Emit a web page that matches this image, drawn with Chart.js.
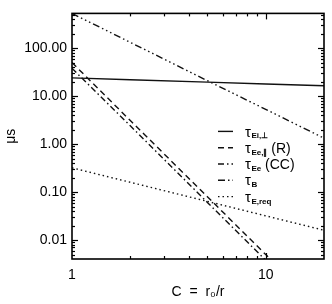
<!DOCTYPE html>
<html><head><meta charset="utf-8">
<script src="https://cdn.jsdelivr.net/npm/chart.js@4.4.1/dist/chart.umd.min.js"></script>
<style>html,body{margin:0;padding:0;background:#fff}canvas{display:block}</style>
</head><body>
<canvas id="c" width="332" height="304"></canvas>
<script>
// ---- data ----
const cPoints   = [1, 2, 5, 10, 20];
const tauEiPerp = [24, 22, 19.6, 17.9, 16.4];
const tauEePar  = [50, 3.1, 0.08, 0.005, 0.0003];
const tauEeCC   = [38, 2.4, 0.061, 0.0038, 0.00024];
const tauB      = [530, 132, 21, 5.3, 1.33];
const tauEreq   = [0.32, 0.16, 0.064, 0.032, 0.016];
const xRange = [1, 20];
const yRange = [0.00403, 530];
const legendMain   = ['τ', 'τ', 'τ', 'τ', 'τ'];
const legendSub    = ['Ei,⊥', 'Ee,∥', 'Ee', 'B', 'E,req'];
const legendSuffix = ['', ' (R)', ' (CC)', '', ''];
const xTitle = 'C  =  r₀/r';
const yTitle = 'μs';

const FONT = "'Liberation Sans', Arial, Helvetica, sans-serif";
Chart.defaults.font.family = FONT;
Chart.defaults.font.size = 14;
Chart.defaults.color = '#000';

const mk = (vals, dash) => ({
  data: cPoints.map((c, i) => ({x: c, y: vals[i]})),
  borderColor: '#111', borderWidth: 1.4, borderDash: dash,
  pointRadius: 0, showLine: true, fill: false, tension: 0
});
const datasets = [
  mk(tauEiPerp, []),
  mk(tauEePar, [6, 4]),
  mk(tauEeCC, [6, 3, 1.5, 3]),
  mk(tauB, [7, 3, 1.5, 3, 1.5, 3, 1.5, 3]),
  mk(tauEreq, [1.5, 3])
];

const isDecade = v => Math.abs(Math.log10(v) - Math.round(Math.log10(v))) < 1e-6;
const isIntMant = v => { const m = v / Math.pow(10, Math.floor(Math.log10(v) + 1e-9)); return Math.abs(m - Math.round(m)) < 1e-6; };

const framePlugin = {
  id: 'frame',
  afterDatasetsDraw(chart) {
    const {ctx, chartArea: a, scales: {x, y}} = chart;
    ctx.save();
    ctx.strokeStyle = '#000';
    ctx.lineWidth = 1.2;
    const seg = (x1, y1, x2, y2) => { ctx.beginPath(); ctx.moveTo(x1, y1); ctx.lineTo(x2, y2); ctx.stroke(); };
    x.ticks.forEach(t => {
      if (t.value <= x.min || t.value >= x.max || !isIntMant(t.value)) return;
      const px = Math.round(x.getPixelForValue(t.value)) + 0.5;
      const len = isDecade(t.value) ? 6 : 3;
      seg(px, a.bottom, px, a.bottom - len);
      seg(px, a.top, px, a.top + len);
    });
    y.ticks.forEach(t => {
      if (t.value <= y.min || t.value >= y.max || !isIntMant(t.value)) return;
      const py = Math.round(y.getPixelForValue(t.value)) + 0.5;
      const len = isDecade(t.value) ? 6 : 3;
      seg(a.left, py, a.left + len, py);
      seg(a.right, py, a.right - len, py);
    });
    ctx.lineWidth = 1.6;
    ctx.strokeRect(a.left, a.top, a.right - a.left, a.bottom - a.top);

    // legend
    const x0 = a.left + 146, x1 = a.left + 161, tx = a.left + 173;
    datasets.forEach((ds, i) => {
      const ly = a.top + 118 + i * 16.3;
      ctx.save();
      ctx.strokeStyle = ds.borderColor;
      ctx.lineWidth = 1.4;
      ctx.setLineDash(ds.borderDash);
      seg(x0, ly, x1, ly);
      ctx.restore();
      ctx.fillStyle = '#000';
      ctx.textBaseline = 'middle';
      ctx.font = '15px ' + FONT;
      ctx.fillText(legendMain[i], tx, ly + 1);
      let cx = tx + ctx.measureText(legendMain[i]).width + 0.5;
      ctx.font = 'bold 8px ' + FONT;
      ctx.textBaseline = 'alphabetic';
      ctx.fillText(legendSub[i], cx, ly + 7);
      cx += ctx.measureText(legendSub[i]).width;
      if (legendSuffix[i]) {
        ctx.font = '14px ' + FONT;
        ctx.textBaseline = 'middle';
        ctx.fillText(legendSuffix[i], cx, ly + 1.5);
      }
    });
    ctx.restore();
  }
};

new Chart(document.getElementById('c'), {
  type: 'scatter',
  data: {datasets},
  options: {
    responsive: false, animation: false, devicePixelRatio: 1,
    layout: {padding: {top: 5, right: 5, left: 0, bottom: 0}},
    plugins: {legend: {display: false}, tooltip: {enabled: false}},
    scales: {
      x: {
        type: 'logarithmic', min: xRange[0], max: xRange[1],
        grid: {display: false, drawTicks: false}, border: {display: false},
        ticks: {autoSkip: false, maxRotation: 0, padding: 8,
          callback: v => isDecade(v) ? String(Math.round(v)) : ''},
        title: {display: true, text: xTitle, padding: {top: 3, bottom: 3}},
        afterFit: s => { s.height = 45; }
      },
      y: {
        type: 'logarithmic', min: yRange[0], max: yRange[1],
        grid: {display: false, drawTicks: false}, border: {display: false},
        ticks: {autoSkip: false, padding: 5,
          callback: v => isDecade(v) ? v.toFixed(2) : ''},
        title: {display: true, text: yTitle, padding: {top: 3, bottom: 3}},
        afterFit: s => { s.width = 72; }
      }
    }
  },
  plugins: [framePlugin]
});
</script>
</body></html>
